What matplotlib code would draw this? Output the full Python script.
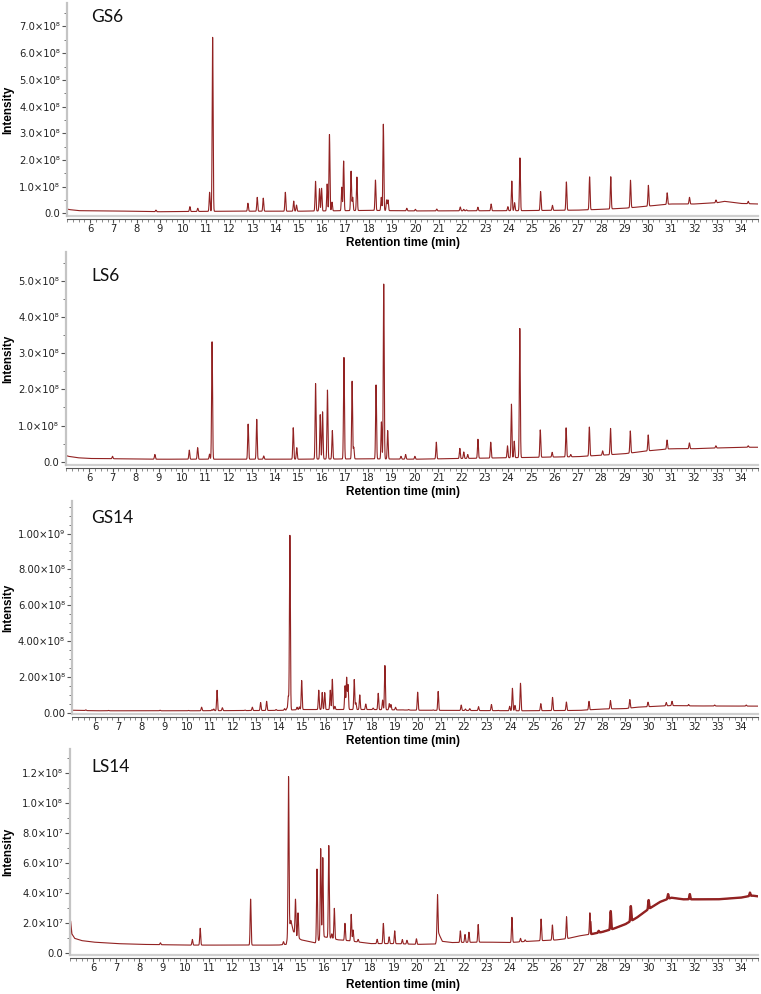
import numpy as np
import matplotlib
matplotlib.use("Agg")
from matplotlib import pyplot as plt
from matplotlib.ticker import MultipleLocator

W, H = 761, 994
LINE = "#922222"

# ---- data ----
# GS6, intensity in units of 1e8
gs6_base_t = [5.0, 5.1, 5.5, 7, 9, 12, 15, 18, 20, 24.5, 27, 28, 29, 30, 31, 32, 33, 33.3, 34, 34.75]
gs6_base_v = [0.16, 0.14, 0.10, 0.09, 0.06, 0.08, 0.08, 0.11, 0.09, 0.10, 0.12, 0.15, 0.19, 0.27, 0.35, 0.35, 0.40, 0.45, 0.37, 0.35]
gs6_peak_t = [8.83, 10.29, 10.63, 11.14, 11.27, 12.79, 13.19, 13.45, 14.40, 14.76, 14.88,
              15.70, 15.87, 15.96, 16.20, 16.30, 16.41, 16.83, 16.91, 17.23, 17.30, 17.48,
              18.28, 18.53, 18.62, 18.76, 18.82, 19.63, 20.0, 20.92, 21.93, 22.08, 22.2,
              22.69, 23.26, 23.98, 24.15, 24.27, 24.5, 25.39, 25.9, 26.5, 27.5, 28.41,
              29.26, 30.03, 30.84, 31.8, 32.94, 34.33]
gs6_peak_h = [0.12, 0.25, 0.19, 0.79, 6.62, 0.38, 0.60, 0.57, 0.79, 0.46, 0.31,
              1.20, 0.92, 0.94, 1.10, 2.96, 0.42, 0.98, 1.96, 1.58, 0.60, 1.36,
              1.25, 0.60, 3.34, 0.50, 0.50, 0.19, 0.15, 0.16, 0.24, 0.15, 0.13,
              0.23, 0.35, 0.25, 1.21, 0.40, 2.08, 0.82, 0.30, 1.18, 1.37, 1.37,
              1.24, 1.05, 0.77, 0.60, 0.50, 0.45]
gs6_yticks = [0, 1, 2, 3, 4, 5, 6, 7]
gs6_ylabels = ["0.0", "1.0×10⁸", "2.0×10⁸", "3.0×10⁸", "4.0×10⁸", "5.0×10⁸", "6.0×10⁸", "7.0×10⁸"]

# LS6, units of 1e8
ls6_base_t = [5.0, 5.1, 5.5, 6, 9, 12, 15, 18, 20, 25, 27, 28, 29, 30, 31, 32, 34, 34.75]
ls6_base_v = [0.17, 0.15, 0.11, 0.09, 0.07, 0.07, 0.07, 0.08, 0.07, 0.12, 0.14, 0.18, 0.22, 0.30, 0.36, 0.36, 0.40, 0.40]
ls6_peak_t = [7.0, 8.82, 10.3, 10.66, 11.17, 11.28, 12.83, 13.2, 13.5, 14.77, 14.92,
              15.73, 15.93, 16.03, 16.24, 16.45, 16.95, 17.3, 17.37, 18.33, 18.56, 18.66,
              18.83, 19.4, 19.6, 20.0, 20.92, 21.93, 22.1, 22.27, 22.71, 23.26, 23.98,
              24.15, 24.27, 24.51, 25.39, 25.9, 26.5, 26.7, 27.5, 28.07, 28.41, 29.26,
              30.03, 30.84, 31.8, 32.94, 34.33]
ls6_peak_h = [0.15, 0.20, 0.32, 0.39, 0.21, 3.31, 1.04, 1.17, 0.16, 0.94, 0.39,
              2.16, 1.30, 1.38, 1.98, 0.86, 2.88, 2.23, 0.40, 2.12, 1.10, 4.91,
              0.86, 0.15, 0.20, 0.15, 0.54, 0.37, 0.27, 0.20, 0.62, 0.54, 0.44,
              1.59, 0.57, 3.68, 0.88, 0.26, 0.94, 0.20, 0.96, 0.30, 0.92, 0.85,
              0.74, 0.60, 0.52, 0.44, 0.44]
ls6_yticks = [0, 1, 2, 3, 4, 5]
ls6_ylabels = ["0.0", "1.0×10⁸", "2.0×10⁸", "3.0×10⁸", "4.0×10⁸", "5.0×10⁸"]

# GS14, units of 1e8
gs14_base_t = [5.0, 6, 10, 14, 15, 18, 20, 24.5, 27, 28, 29, 29.5, 30, 31, 32, 34.75]
gs14_base_v = [0.13, 0.10, 0.10, 0.12, 0.17, 0.17, 0.13, 0.10, 0.12, 0.20, 0.22, 0.30, 0.33, 0.39, 0.37, 0.36]
gs14_peak_t = [5.6, 6.58, 8.82, 10.05, 10.62, 11.07, 11.15, 11.29, 11.52, 12.5, 12.82,
               13.18, 13.44, 13.85, 14.22, 14.32, 14.38, 14.45, 14.76, 14.86, 14.96,
               15.7, 15.85, 15.96, 16.2, 16.29, 16.4, 16.84, 16.91, 16.97, 17.24, 17.31,
               17.48, 17.74, 18.06, 18.28, 18.47, 18.57, 18.76, 18.83, 19.03, 19.36, 19.6,
               19.99, 20.34, 20.66, 20.88, 21.88, 22.06, 22.25, 22.63, 23.19, 23.48, 23.98,
               24.1, 24.21, 24.45, 25.33, 25.84, 26.44, 27.42, 27.95, 28.35, 29.19, 29.98,
               30.77, 31.02, 31.74, 32.87, 34.24]
gs14_peak_h = [0.15, 0.12, 0.13, 0.12, 0.30, 0.16, 0.20, 1.25, 0.27, 0.14, 0.30,
               0.56, 0.63, 0.17, 0.22, 0.24, 0.91, 9.90, 0.30, 0.32, 1.80,
               1.25, 1.12, 1.12, 1.25, 1.86, 0.35, 1.50, 1.96, 1.55, 1.85, 0.55,
               0.99, 0.48, 0.25, 1.08, 0.70, 2.64, 0.50, 0.45, 0.30, 0.15, 0.17,
               1.14, 0.12, 0.15, 1.18, 0.42, 0.20, 0.22, 0.33, 0.45, 0.12, 0.35,
               1.36, 0.40, 1.64, 0.50, 0.85, 0.59, 0.63, 0.20, 0.67, 0.73, 0.58,
               0.56, 0.63, 0.45, 0.42, 0.42]
gs14_yticks = [0, 2, 4, 6, 8, 10]
gs14_ylabels = ["0.00", "2.00×10⁸", "4.00×10⁸", "6.00×10⁸", "8.00×10⁸", "1.00×10⁹"]

# LS14, units of 1e7
ls14_base_t = [5.0, 5.02, 5.025, 5.08, 5.2, 5.5, 6, 7, 8, 10, 12, 14, 14.35, 14.55, 14.65,
               14.8, 15.0, 15.3, 15.6, 16.0, 16.6, 17.0, 17.5, 18, 19, 20, 20.8, 20.95,
               21.1, 21.5, 23, 24, 25, 26, 26.5, 27, 27.5, 28, 28.5, 29, 29.5, 30, 30.5,
               31, 31.5, 33, 34, 34.5, 34.75]
ls14_base_v = [0.0, 0.0, 2.2, 1.3, 1.0, 0.85, 0.75, 0.65, 0.60, 0.55, 0.55, 0.55, 0.60, 2.2, 1.5,
               1.1, 0.9, 0.8, 0.7, 1.1, 0.9, 0.85, 0.75, 0.65, 0.65, 0.60, 0.62, 1.3,
               0.8, 0.72, 0.75, 0.72, 0.82, 0.89, 0.98, 1.16, 1.27, 1.42, 1.64, 1.93, 2.37, 2.93, 3.42,
               3.71, 3.6, 3.6, 3.71, 3.85, 3.8]
ls14_peak_t = [8.91, 10.29, 10.63, 12.81, 14.23, 14.45, 14.75, 14.86, 15.68, 15.84, 15.93,
               16.19, 16.32, 16.43, 16.89, 17.16, 17.24, 17.46, 18.28, 18.55, 18.8, 19.04,
               19.37, 19.57, 19.98, 20.89, 21.88, 22.08, 22.25, 22.65, 24.11, 24.48, 24.68,
               25.37, 25.86, 26.47, 27.48, 27.86, 28.38, 29.25, 30.02, 30.86, 31.8, 34.4]
ls14_peak_h = [0.70, 0.93, 1.67, 3.62, 0.78, 11.78, 3.62, 2.70, 5.62, 7.00, 6.38,
               7.20, 1.30, 3.00, 2.00, 2.60, 1.56, 0.93, 0.94, 2.00, 1.10, 1.50,
               0.92, 0.87, 0.97, 3.92, 1.50, 1.26, 1.41, 1.92, 2.40, 1.00, 0.90,
               2.29, 1.89, 2.44, 2.71, 1.50, 2.82, 3.15, 3.55, 3.95, 3.95, 4.05]
ls14_yticks = [0, 2, 4, 6, 8, 10, 12]
ls14_ylabels = ["0.0", "2.0×10⁷", "4.0×10⁷", "6.0×10⁷", "8.0×10⁷", "1.0×10⁸", "1.2×10⁸"]

xticks = list(range(6, 35))


def trace(bt, bv, pt, ph, sig=0.02):
    t = np.linspace(5.0, 34.75, 7500)
    y = np.interp(t, bt, bv)
    for p, h in zip(pt, ph):
        amp = max(h - np.interp(p, bt, bv), 0)
        y = y + amp * np.exp(-0.5 * ((t - p) / sig) ** 2)
    return t, y


def box(l, t, r, b):
    return [l / W, 1 - b / H, (r - l) / W, (b - t) / H]


fig = plt.figure(figsize=(W / 100, H / 100), dpi=100)

panels = [
    ("GS6", gs6_base_t, gs6_base_v, gs6_peak_t, gs6_peak_h, gs6_yticks, gs6_ylabels,
     (67, 3, 758, 216), (-0.10, 7.88), 0.5, 17.5, 243),
    ("LS6", ls6_base_t, ls6_base_v, ls6_peak_t, ls6_peak_h, ls6_yticks, ls6_ylabels,
     (66, 252, 758, 465), (-0.09, 5.79), 0.5, 276, 492),
    ("GS14", gs14_base_t, gs14_base_v, gs14_peak_t, gs14_peak_h, gs14_yticks, gs14_ylabels,
     (72, 501, 758, 714), (-0.08, 11.82), 0.5, 518, 741),
    ("LS14", ls14_base_t, ls14_base_v, ls14_peak_t, ls14_peak_h, ls14_yticks, ls14_ylabels,
     (70, 749, 758, 955), (-0.11, 13.62), 1.0, 767, 985),
]

for name, bt, bv, pt, ph, yt, yl, pos, ylim, minor, name_y, xl_y in panels:
    ax = fig.add_axes(box(*pos))
    t, y = trace(bt, bv, pt, ph)
    ax.plot(t, y, color=LINE, lw=0.8)
    if name == "LS14":
        # noisy tail of the trace looks heavier in the original
        m = t >= 27.5
        ax.plot(t[m], y[m], color=LINE, lw=1.7, solid_joinstyle="round")
    ax.set_xlim(5.0, 34.75)
    ax.set_ylim(*ylim)
    ax.axhline(ylim[0], color="#cfcfcf", lw=1.6, clip_on=False, zorder=0)

    ax.set_xticks(xticks)
    ax.set_xticklabels([str(v) for v in xticks])
    ax.xaxis.set_minor_locator(MultipleLocator(0.25))
    ax.set_yticks(yt)
    ax.set_yticklabels(yl)
    ax.yaxis.set_minor_locator(MultipleLocator(minor))

    for s in ("top", "right"):
        ax.spines[s].set_visible(False)
    ax.spines["left"].set_color("#c4c4c4")
    ax.spines["left"].set_linewidth(1.6)
    ax.spines["bottom"].set_color("#555555")
    ax.spines["bottom"].set_linewidth(0.8)
    ax.spines["bottom"].set_position(("outward", 1.8))

    ax.tick_params(axis="y", which="major", direction="out", length=3.5, width=0.8,
                   color="#555555", labelsize=7.2, pad=1.5, labelcolor="#222222")
    ax.tick_params(axis="y", which="minor", direction="out", length=2, width=0.7, color="#777777")
    ax.tick_params(axis="x", which="major", direction="out", length=3, width=0.8,
                   color="#555555", labelsize=7.2, pad=0.8, labelcolor="#222222")
    ax.tick_params(axis="x", which="minor", direction="out", length=2, width=0.6, color="#777777")

    l, tp, r, b = pos
    fig.text(91 / W, 1 - name_y / H, name, fontsize=12.5, family="Lato",
             ha="left", va="center", color="#111111")
    fig.text(8.5 / W, 1 - ((tp + b) / 2) / H, "Intensity", rotation=90, fontsize=8.5,
             family="Liberation Sans", weight="bold", ha="center", va="center")
    fig.text(403 / W, 1 - xl_y / H, "Retention time (min)", fontsize=8.5,
             family="Liberation Sans", weight="bold", ha="center", va="center")

fig.savefig("out.png", dpi=100)
